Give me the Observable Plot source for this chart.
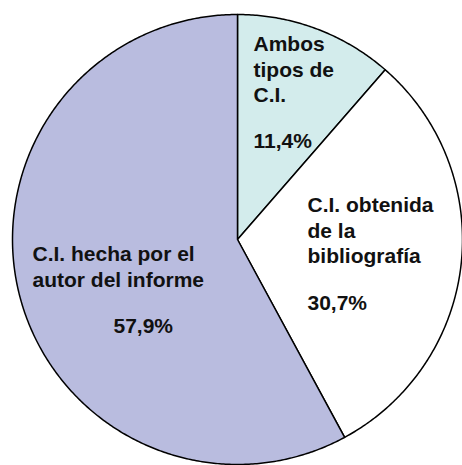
<!DOCTYPE html>
<html>
<head>
<meta charset="utf-8">
<script src="https://cdn.jsdelivr.net/npm/d3@7"></script>
<script src="https://cdn.jsdelivr.net/npm/@observablehq/plot@0.6"></script>
<style>
  html, body { margin: 0; padding: 0; background: #fff; }
  #chart svg { display: block; }
</style>
</head>
<body>
<div id="chart"></div>
<script>
// ---- data ----
const categories = ["Ambos tipos de C.I.", "C.I. obtenida de la bibliografía", "C.I. hecha por el autor del informe"];
const values = [11.4, 30.7, 57.9];
const nameLines = ["Ambos\ntipos de\nC.I.", "C.I. obtenida\nde la\nbibliografía", "C.I. hecha por el\nautor del informe"];
const valueLabels = ["11,4%", "30,7%", "57,9%"];

// ---- style / layout ----
const colors = ["#d3ecec", "#ffffff", "#b9bcdf"];
const W = 462, H = 465, CX = 237, CY = 239, R = 225;
// label anchors in pixels (x = left edge, y = cap top)
const namePos = [[253, 32], [307, 193], [32, 242]];
const valuePos = [[253, 133], [307, 295], [113, 318]];

const px = (x) => (x - CX) / R;
const py = (y) => (CY - y) / R;

const arcs = d3.pie().sort(null).value(d => d)(values);
const slicePts = [];
arcs.forEach((a, i) => {
  const cat = categories[i];
  slicePts.push({cat, x: 0, y: 0});
  const n = Math.max(2, Math.ceil((a.endAngle - a.startAngle) / (Math.PI / 360)));
  for (let k = 0; k <= n; k++) {
    const t = a.startAngle + (a.endAngle - a.startAngle) * k / n;
    slicePts.push({cat, x: Math.sin(t), y: Math.cos(t)});
  }
  slicePts.push({cat, x: 0, y: 0});
});

const nameData = categories.map((c, i) => ({cat: c, text: nameLines[i], x: px(namePos[i][0]), y: py(namePos[i][1])}));
const valueData = categories.map((c, i) => ({cat: c, text: valueLabels[i], x: px(valuePos[i][0]), y: py(valuePos[i][1])}));

const font = "'Liberation Sans', Arial, Helvetica, sans-serif";
const plot = Plot.plot({
  width: W, height: H,
  margin: 0,
  x: {domain: [px(0), px(W)], axis: null},
  y: {domain: [py(H), py(0)], axis: null},
  color: {domain: categories, range: colors},
  style: {background: "#fff", fontFamily: font},
  marks: [
    Plot.line(slicePts, {x: "x", y: "y", z: "cat", fill: "cat", stroke: "#000", strokeWidth: 1.5, strokeLinejoin: "round", curve: "linear"}),
    Plot.text(nameData, {x: "x", y: "y", text: "text", textAnchor: "start", lineAnchor: "top", lineHeight: 1.23, fontSize: 21, fontWeight: "bold", fill: "#111", fontFamily: font}),
    Plot.text(valueData, {x: "x", y: "y", text: "text", textAnchor: "start", lineAnchor: "top", fontSize: 21, fontWeight: "bold", fill: "#111", fontFamily: font})
  ]
});
document.getElementById("chart").appendChild(plot);
</script>
</body>
</html>
